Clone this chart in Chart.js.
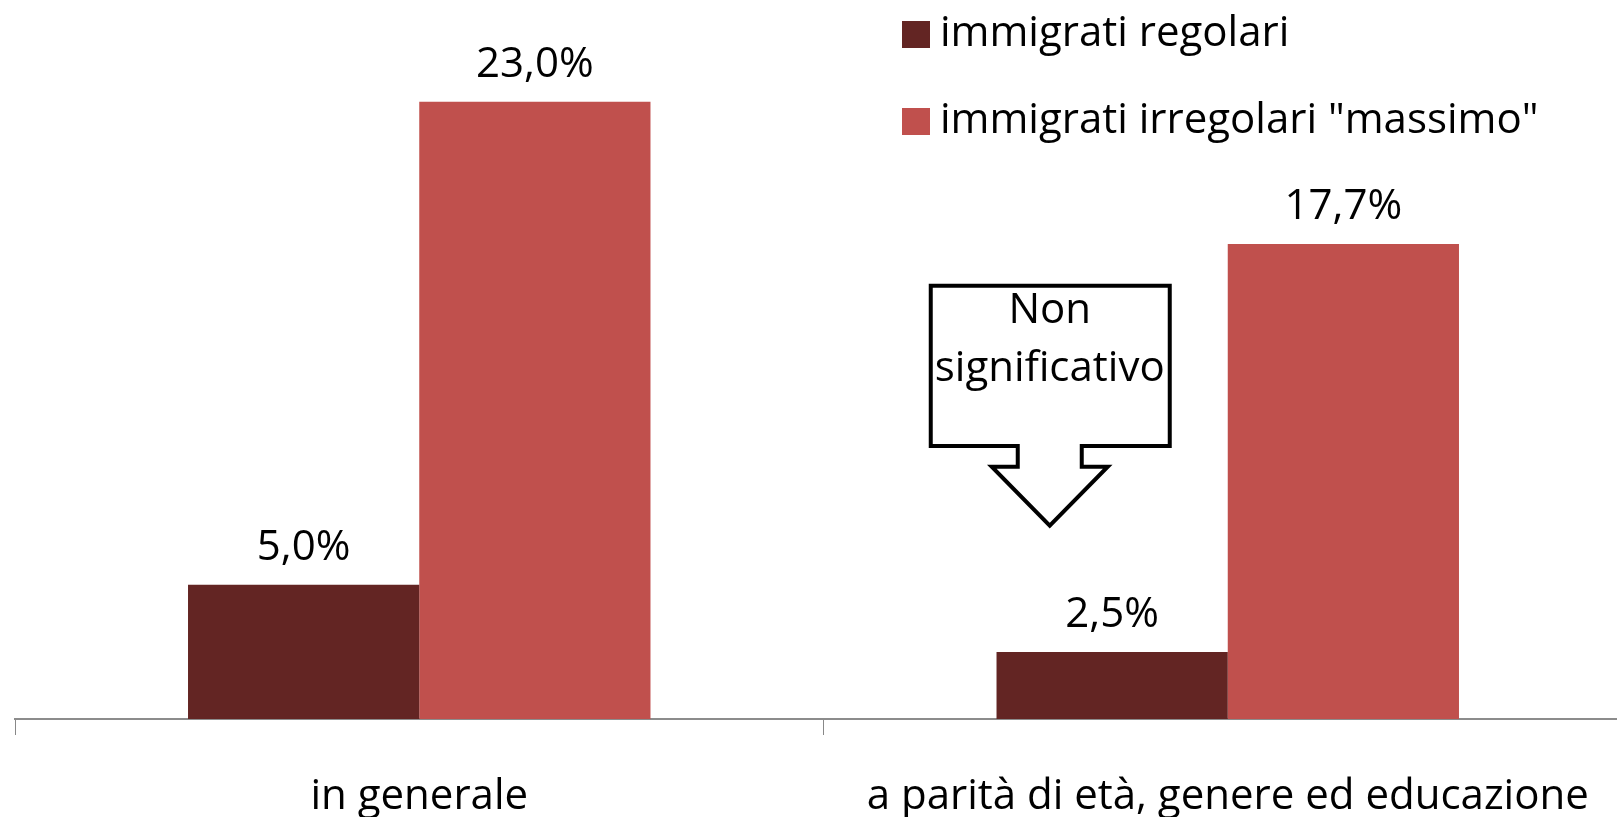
<!DOCTYPE html>
<html>
<head>
<meta charset="utf-8">
<script src="https://cdn.jsdelivr.net/npm/chart.js@4.4.1/dist/chart.umd.min.js"></script>
<style>
  html, body { margin: 0; padding: 0; overflow: hidden; background: #fff; }
  #wrap { width: 1640px; height: 817px; }
</style>
</head>
<body>
<div id="wrap"><canvas id="chart"></canvas></div>
<script>
// dati del grafico
const categorie = ['in generale', 'a parità di età, genere ed educazione'];
const regolari = [5.0, 2.5];
const irregolari = [23.0, 17.7];
const serie = ['immigrati regolari', 'immigrati irregolari "massimo"'];
const colori = ['#632523', '#c0504d'];

const FONT = "'Open Sans', 'Liberation Sans', sans-serif";

const fmt = v => v.toFixed(1).replace('.', ',') + '%';

// etichette sopra le barre
const etichette = {
    id: 'etichette',
    afterDatasetsDraw(chart) {
        const ctx = chart.ctx;
        ctx.save();
        ctx.font = '42px ' + FONT;
        ctx.fillStyle = '#000';
        ctx.textAlign = 'center';
        ctx.textBaseline = 'middle';
        chart.data.datasets.forEach((ds, i) => {
            chart.getDatasetMeta(i).data.forEach((bar, j) => {
                ctx.fillText(fmt(ds.data[j]), bar.x, bar.y - 37);
            });
        });
        ctx.restore();
    }
};

// legenda in alto a destra
const legenda = {
    id: 'legenda',
    afterDraw(chart) {
        const ctx = chart.ctx;
        ctx.save();
        ctx.font = '42px ' + FONT;
        ctx.textBaseline = 'middle';
        ctx.textAlign = 'left';
        chart.data.datasets.forEach((ds, i) => {
            const y = 34 + i * 87;
            ctx.fillStyle = ds.backgroundColor;
            ctx.fillRect(902, y - 13, 28, 27);
            ctx.fillStyle = '#000';
            ctx.fillText(ds.label, 940, y);
        });
        ctx.restore();
    }
};

// freccia "Non significativo"
const freccia = {
    id: 'freccia',
    afterDraw(chart) {
        const ctx = chart.ctx;
        const x = chart.scales.x.getPixelForValue(1) - 178;
        const y = chart.scales.y;
        const top = y.getPixelForValue(16.14);
        const bot = y.getPixelForValue(10.17);
        const stem = y.getPixelForValue(9.4);
        const tip = y.getPixelForValue(7.2);
        ctx.save();
        ctx.beginPath();
        ctx.moveTo(x - 119, top);
        ctx.lineTo(x + 120, top);
        ctx.lineTo(x + 120, bot);
        ctx.lineTo(x + 32, bot);
        ctx.lineTo(x + 32, stem);
        ctx.lineTo(x + 58, stem);
        ctx.lineTo(x, tip);
        ctx.lineTo(x - 58, stem);
        ctx.lineTo(x - 32, stem);
        ctx.lineTo(x - 32, bot);
        ctx.lineTo(x - 119, bot);
        ctx.closePath();
        ctx.fillStyle = '#fff';
        ctx.fill();
        ctx.lineWidth = 4;
        ctx.strokeStyle = '#000';
        ctx.lineJoin = 'miter';
        ctx.stroke();
        ctx.font = '42px ' + FONT;
        ctx.fillStyle = '#000';
        ctx.textAlign = 'center';
        ctx.textBaseline = 'middle';
        ctx.fillText('Non', x, top + 25);
        ctx.fillText('significativo', x, top + 83);
        ctx.restore();
    }
};

new Chart(document.getElementById('chart'), {
    type: 'bar',
    data: {
        labels: categorie,
        datasets: [{
                label: serie[0],
                data: regolari,
                backgroundColor: colori[0],
                borderWidth: 0
            },
            {
                label: serie[1],
                data: irregolari,
                backgroundColor: colori[1],
                borderWidth: 0
            }
        ]
    },
    options: {
        responsive: true,
        maintainAspectRatio: false,
        animation: false,
        layout: {
            padding: { left: 15, right: 8, top: 48, bottom: 0 }
        },
        plugins: {
            legend: { display: false },
            tooltip: { enabled: false }
        },
        datasets: {
            bar: { categoryPercentage: 0.572, barPercentage: 1 }
        },
        scales: {
            x: {
                grid: {
                    display: true,
                    drawOnChartArea: false,
                    drawTicks: true,
                    tickLength: 16,
                    color: '#888',
                    lineWidth: 1
                },
                border: { display: true, color: '#8c8c8c', width: 2 },
                ticks: {
                    color: '#000',
                    padding: 37,
                    maxRotation: 0,
                    font: { family: FONT, size: 42 }
                },
                afterFit(scale) {
                    scale.height = 98;
                }
            },
            y: {
                display: false,
                min: 0,
                max: 25
            }
        }
    },
    plugins: [etichette, legenda, freccia]
});
</script>
</body>
</html>
